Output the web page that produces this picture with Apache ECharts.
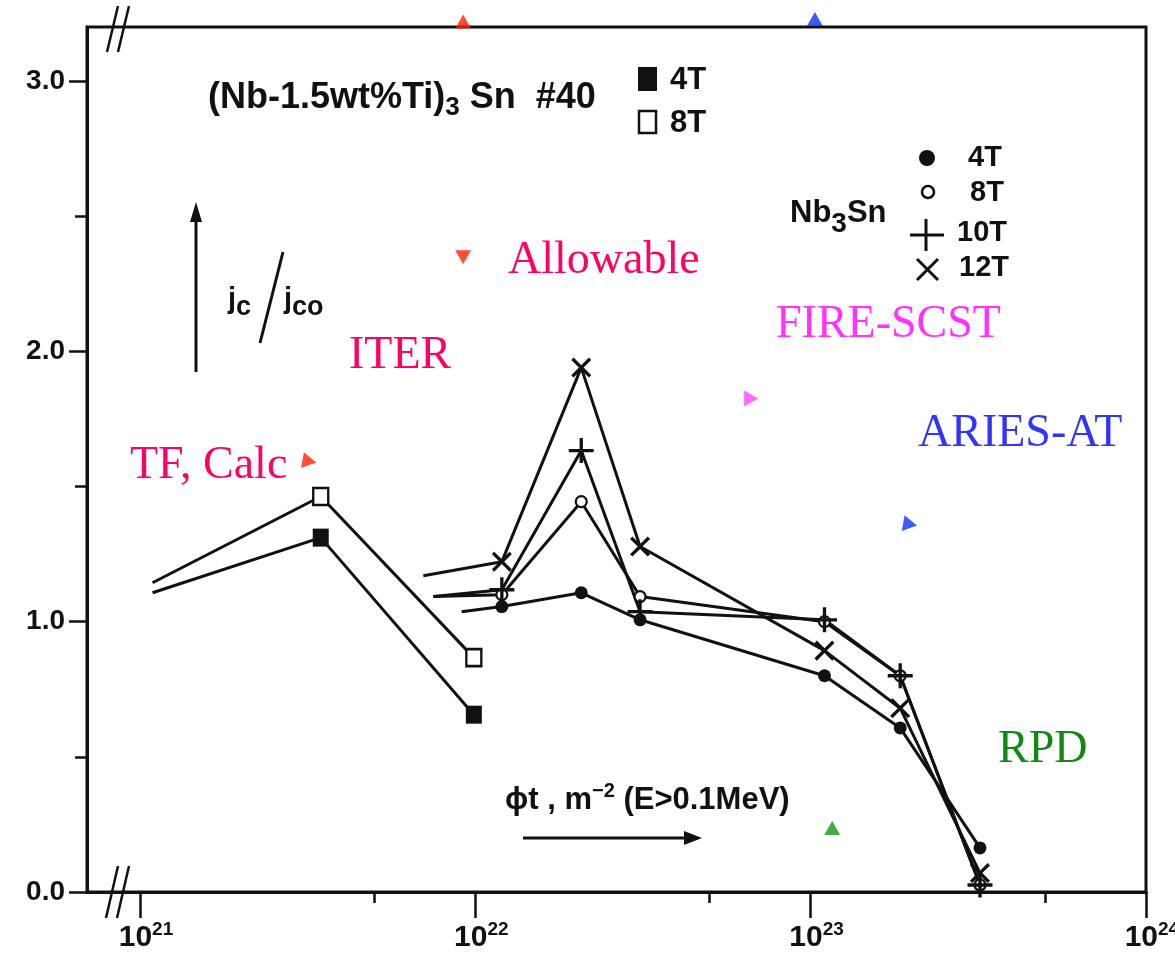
<!DOCTYPE html>
<html>
<head>
<meta charset="utf-8">
<script src="https://cdn.jsdelivr.net/npm/echarts@6/dist/echarts.min.js"></script>
<style>
html,body{margin:0;padding:0;background:#fff;}
#chart{width:1175px;height:961px;}
</style>
</head>
<body>
<div id="chart"></div>
<script>
// ---------- data ----------
// (Nb-1.5wt%Ti)3Sn #40  (first point = start of the lead-in line, no marker)
const ntiX   = [1.09e21, 3.46e21, 9.9e21];
const nti4T  = [1.107, 1.311, 0.656];
const nti8T  = [1.144, 1.463, 0.867];

// Nb3Sn (first point = start of the lead-in line, no marker)
const nbX4T  = [9.1e21, 1.2e22, 2.07e22, 3.1e22, 1.1e23, 1.85e23, 3.2e23];
const nb4T   = [1.037, 1.056, 1.107, 1.007, 0.800, 0.607, 0.163];
const nbX8T  = [7.5e21, 1.2e22, 2.07e22, 3.1e22, 1.1e23, 1.85e23, 3.2e23];
const nb8T   = [1.093, 1.100, 1.444, 1.093, 1.000, 0.800, 0.026];
const nbX10T = [7.5e21, 1.2e22, 2.07e22, 3.1e22, 1.1e23, 1.85e23, 3.2e23];
const nb10T  = [1.093, 1.118, 1.633, 1.037, 1.007, 0.800, 0.026];
const nbX12T = [7.0e21, 1.2e22, 2.07e22, 3.1e22, 1.1e23, 1.85e23, 3.2e23];
const nb12T  = [1.170, 1.222, 1.940, 1.278, 0.893, 0.680, 0.070];

// design-point triangles
const redX = [9.2e21, 9.2e21, 3.2e21];
const redY = [3.22, 2.348, 1.593];
const blueX = [1.03e23, 1.98e23];
const blueY = [3.23, 1.36];
const magX = [6.65e22];
const magY = [1.826];
const greenX = [1.16e23];
const greenY = [0.237];

// axis ticks / labels
const xMin = 6.95e20, xMax = 1.0005e24;
const xMajorTicks = [1e21, 1e22, 1e23, 1e24];
const xMinorTicks = [5e21, 5e22, 5e23];
const yMajorTicks = [0, 1, 2, 3];
const yMinorTicks = [0.5, 1.5, 2.5];
const yMax = 3.2;

// ---------- styling ----------
const BLK = '#111';
const SANS = '"Liberation Sans", Arial, sans-serif';
const SERIF = '"Liberation Serif", "Times New Roman", serif';
const PLUS = 'path://M-1.6,-12 L1.6,-12 L1.6,-1.6 L12,-1.6 L12,1.6 L1.6,1.6 L1.6,12 L-1.6,12 L-1.6,1.6 L-12,1.6 L-12,-1.6 L-1.6,-1.6 Z';

function pts(xs, ys) {
  return xs.map((x, i) => i === 0 ? {value: [x, ys[i]], symbol: 'none'} : [x, ys[i]]);
}
function lineSeries(name, xs, ys, symbol, size, itemStyle, rotate) {
  return {
    name, type: 'line', data: pts(xs, ys),
    symbol, symbolSize: size, symbolRotate: rotate || 0, showAllSymbol: true,
    lineStyle: {color: BLK, width: 3},
    itemStyle: Object.assign({color: BLK}, itemStyle || {}),
    emphasis: {disabled: true}, z: 3
  };
}
function triSeries(xs, ys, rots, color, size) {
  return {
    type: 'scatter', data: xs.map((x, i) => ({value: [x, ys[i]], symbolRotate: rots[i]})),
    symbol: 'triangle', symbolSize: size, itemStyle: {color}, clip: false, z: 6,
    emphasis: {disabled: true}
  };
}

const series = [
  lineSeries('NbTi 4T', ntiX, nti4T, 'rect', [16, 18]),
  lineSeries('NbTi 8T', ntiX, nti8T, 'rect', [15, 17], {color: '#fff', borderColor: BLK, borderWidth: 2.5}),
  lineSeries('Nb3Sn 4T', nbX4T, nb4T, 'circle', 13),
  lineSeries('Nb3Sn 8T', nbX8T, nb8T, 'circle', 11, {color: '#fff', borderColor: BLK, borderWidth: 2.2}),
  lineSeries('Nb3Sn 10T', nbX10T, nb10T, PLUS, 25),
  lineSeries('Nb3Sn 12T', nbX12T, nb12T, PLUS, 25, null, 45),
  triSeries(redX, redY, [0, 180, -100], '#ff2200', [16, 14]),
  triSeries(blueX, blueY, [0, -100], '#0a33ff', [16, 14]),
  triSeries(magX, magY, [-90], '#ff44ff', [16, 14]),
  triSeries(greenX, greenY, [0], '#119911', [16, 14])
];

const chart = echarts.init(document.getElementById('chart'), null, {renderer: 'canvas'});

function txt(x, y, text, font, fill, extra) {
  return {type: 'text', x, y, z: 20, style: Object.assign({text, font, fill, align: 'left', verticalAlign: 'middle'}, extra || {})};
}
function ln(x1, y1, x2, y2, w) {
  return {type: 'line', z: 20, shape: {x1, y1, x2, y2}, style: {stroke: BLK, lineWidth: w || 3}};
}
const bold = (s) => 'bold ' + s + 'px ' + SANS;
const serif = (s) => s + 'px ' + SERIF;

const graphics = [
  // axis breaks
  ln(107, 52, 118, 6, 2.5), ln(118, 52, 129, 6, 2.5),
  ln(106, 918, 118, 866, 2.5), ln(117, 918, 129, 866, 2.5),
  // material title
  txt(208, 98, '{a|(Nb-1.5wt%Ti)}{s|3}{a| Sn  #40}', null, BLK, {
    rich: {a: {font: bold(36), fill: BLK}, s: {font: bold(26), fill: BLK, padding: [20, 0, 0, 0]}}
  }),
  {type: 'rect', z: 20, shape: {x: 638, y: 67, width: 19, height: 24}, style: {fill: BLK}},
  {type: 'rect', z: 20, shape: {x: 639, y: 111, width: 17, height: 22}, style: {fill: '#fff', stroke: BLK, lineWidth: 2.5}},
  txt(670, 80, '4T', bold(31), BLK),
  txt(670, 123, '8T', bold(31), BLK),
  // Nb3Sn legend
  txt(790, 213, '{a|Nb}{s|3}{a|Sn}', null, BLK, {
    rich: {a: {font: bold(31), fill: BLK}, s: {font: bold(28), fill: BLK, padding: [22, 0, 0, 0]}}
  }),
  {type: 'circle', z: 20, shape: {cx: 927, cy: 158, r: 8}, style: {fill: BLK}},
  {type: 'circle', z: 20, shape: {cx: 928, cy: 192, r: 6}, style: {fill: '#fff', stroke: BLK, lineWidth: 2.5}},
  ln(910, 235, 944, 235, 3), ln(926, 219, 926, 251, 3),
  ln(917, 259, 938, 280, 3), ln(938, 259, 917, 280, 3),
  txt(968, 158, '4T', bold(29), BLK),
  txt(970, 193, '8T', bold(29), BLK),
  txt(957, 233, '10T', bold(29), BLK),
  txt(959, 268, '12T', bold(29), BLK),
  // y-quantity arrow and label
  ln(196, 372, 196, 218, 3),
  {type: 'polygon', z: 20, shape: {points: [[196, 202], [190, 222], [202, 222]]}, style: {fill: BLK}},
  txt(228, 300, '{a|j}{s|c}', null, BLK, {rich: {a: {font: bold(29), fill: BLK}, s: {font: bold(27), fill: BLK, padding: [16, 0, 0, 0]}}}),
  ln(283, 252, 260, 343, 3),
  txt(284, 300, '{a|j}{s|co}', null, BLK, {rich: {a: {font: bold(29), fill: BLK}, s: {font: bold(27), fill: BLK, padding: [16, 0, 0, 0]}}}),
  // x-quantity label and arrow
  txt(505, 800, '{a|\u03d5t , m}{s|\u22122}{a| (E>0.1MeV)}', null, BLK, {
    rich: {a: {font: bold(31), fill: BLK}, s: {font: bold(20), fill: BLK, padding: [0, 0, 18, 0]}}
  }),
  ln(523, 838, 688, 838, 3),
  {type: 'polygon', z: 20, shape: {points: [[702, 838], [684, 831], [684, 845]]}, style: {fill: BLK}},
  // coloured annotations
  txt(130, 466, 'TF, Calc', serif(46), '#ff0066'),
  txt(349, 356, 'ITER', serif(46), '#ff0066'),
  txt(508, 261, 'Allowable', serif(46), '#ff0066'),
  txt(776, 325, 'FIRE-SCST', serif(46), '#ff33ff'),
  txt(918, 434, 'ARIES-AT', serif(46), '#3333ff'),
  txt(998, 750, 'RPD', serif(46), '#118811')
];

const xLabelFmt = (v) => '{b|10}{s|' + Math.round(Math.log10(v)) + '}';

const option = {
  animation: false,
  backgroundColor: '#fff',
  grid: {left: 87, right: 29, top: 27, bottom: 69, show: true, borderColor: BLK, borderWidth: 3,
         backgroundColor: 'transparent', outerBoundsMode: 'none', containLabel: false},
  xAxis: [
    {
      type: 'log', logBase: 10, min: xMin, max: xMax, position: 'bottom',
      axisLine: {show: true, lineStyle: {color: BLK, width: 3}},
      axisTick: {show: true, customValues: xMajorTicks, length: 26, lineStyle: {color: BLK, width: 2.5}},
      axisLabel: {
        customValues: xMajorTicks, margin: 28, formatter: xLabelFmt, padding: [0, 0, 0, 12],
        showMaxLabel: true, hideOverlap: false,
        rich: {
          b: {fontSize: 30, fontWeight: 'bold', fontFamily: SANS, color: BLK},
          s: {fontSize: 19, fontWeight: 'bold', fontFamily: SANS, color: BLK, padding: [0, 0, 16, 0]}
        }
      },
      splitLine: {show: false}, minorTick: {show: false}
    },
    {
      type: 'log', logBase: 10, min: xMin, max: xMax, position: 'bottom',
      axisLine: {show: false},
      axisTick: {show: true, customValues: xMinorTicks, length: 11, lineStyle: {color: BLK, width: 2.5}},
      axisLabel: {show: false}, splitLine: {show: false}
    }
  ],
  yAxis: [
    {
      type: 'value', min: 0, max: yMax,
      axisLine: {show: true, lineStyle: {color: BLK, width: 3}},
      axisTick: {show: true, customValues: yMajorTicks, length: 18, lineStyle: {color: BLK, width: 2.5}},
      axisLabel: {customValues: yMajorTicks, formatter: (v) => v.toFixed(1), fontSize: 28, fontWeight: 'bold', fontFamily: SANS, color: BLK, margin: 22},
      splitLine: {show: false}
    },
    {
      type: 'value', min: 0, max: yMax, position: 'left',
      axisLine: {show: false},
      axisTick: {show: true, customValues: yMinorTicks, length: 12, lineStyle: {color: BLK, width: 2.5}},
      axisLabel: {show: false}, splitLine: {show: false}
    }
  ],
  series,
  graphic: graphics
};
chart.setOption(option);
</script>
</body>
</html>
